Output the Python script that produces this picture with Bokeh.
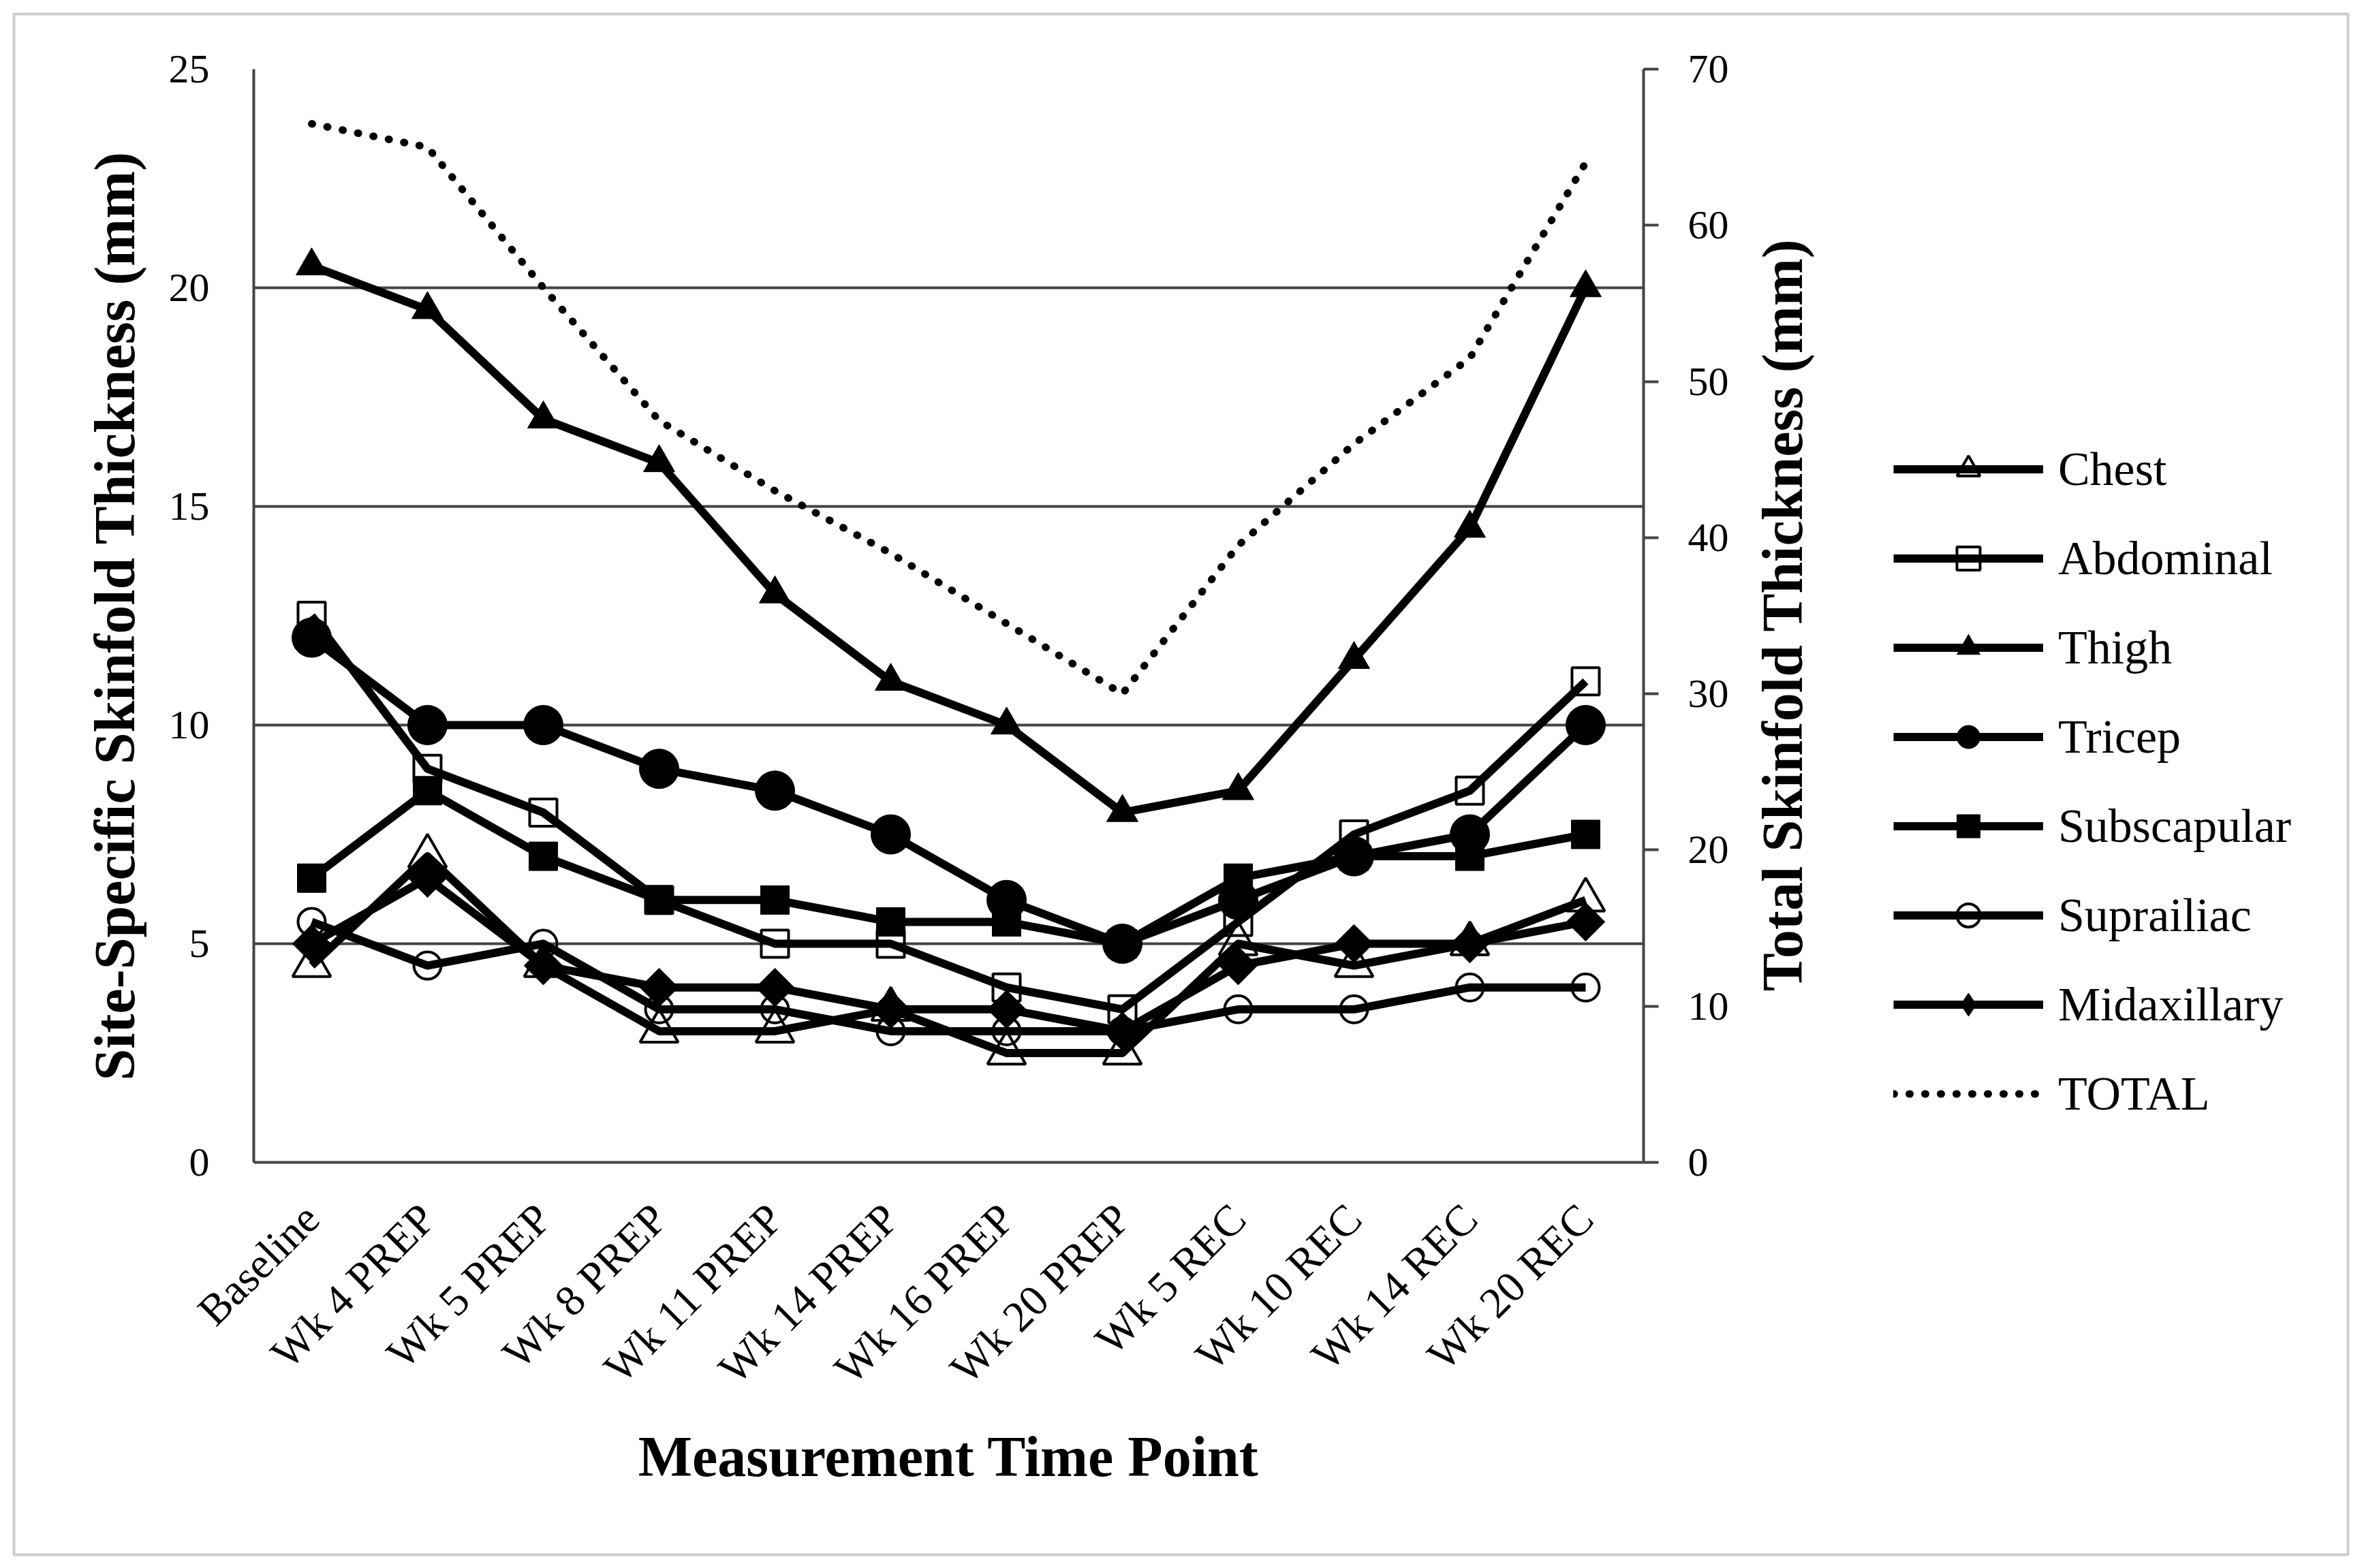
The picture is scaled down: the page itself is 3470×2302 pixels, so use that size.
import math
from bokeh.plotting import figure
from bokeh.models import (FactorRange, Range1d, LinearAxis, FixedTicker,
                          Legend, LegendItem, Label, BoxAnnotation)
from bokeh.embed import file_html
from bokeh.resources import INLINE

categories = ["Baseline", "Wk 4 PREP", "Wk 5 PREP", "Wk 8 PREP", "Wk 11 PREP",
              "Wk 14 PREP", "Wk 16 PREP", "Wk 20 PREP", "Wk 5 REC", "Wk 10 REC",
              "Wk 14 REC", "Wk 20 REC"]
chest = [4.5, 7, 4.5, 3, 3, 3.5, 2.5, 2.5, 5, 4.5, 5, 6]
abdominal = [12.5, 9, 8, 6, 5, 5, 4, 3.5, 5.5, 7.5, 8.5, 11]
thigh = [20.5, 19.5, 17, 16, 13, 11, 10, 8, 8.5, 11.5, 14.5, 20]
tricep = [12, 10, 10, 9, 8.5, 7.5, 6, 5, 6, 7, 7.5, 10]
subscapular = [6.5, 8.5, 7, 6, 6, 5.5, 5.5, 5, 6.5, 7, 7, 7.5]
suprailiac = [5.5, 4.5, 5, 3.5, 3.5, 3, 3, 3, 3.5, 3.5, 4, 4]
midaxillary = [5, 6.5, 4.5, 4, 4, 3.5, 3.5, 3, 4.5, 5, 5, 5.5]
total = [66.5, 65, 56, 47.5, 43, 39, 34.5, 30, 39.5, 46, 51.5, 64]

left_ticks = [0, 5, 10, 15, 20, 25]
right_ticks = [0, 10, 20, 30, 40, 50, 60, 70]

FONT = "Liberation Serif"
GRAY = "#444444"
W, H = 3470, 2302

p = figure(width=W, height=H,
           x_range=FactorRange(factors=categories, range_padding=0),
           y_range=Range1d(0, 25),
           output_backend="svg", toolbar_location=None,
           min_border_left=372, min_border_right=1058,
           min_border_top=101, min_border_bottom=596)
p.background_fill_color = "white"
p.border_fill_color = "white"
p.outline_line_color = None

p.extra_y_ranges = {"total": Range1d(0, 70)}

# grid
p.xgrid.visible = False
p.ygrid.ticker = FixedTicker(ticks=left_ticks)
p.ygrid.grid_line_color = GRAY
p.ygrid.grid_line_width = 4

# left axis
ya = p.yaxis[0]
ya.ticker = FixedTicker(ticks=left_ticks)
ya.major_tick_out = 0
ya.major_tick_in = 0
ya.minor_tick_out = 0
ya.minor_tick_in = 0
ya.axis_line_color = GRAY
ya.axis_line_width = 4
ya.major_label_text_font = FONT
ya.major_label_text_font_size = "60px"
ya.major_label_text_color = "black"
ya.major_label_standoff = 65
ya.axis_label = "Site-Specific Skinfold Thickness (mm)"
ya.axis_label_text_font = FONT
ya.axis_label_text_font_size = "84px"
ya.axis_label_text_font_style = "bold"
ya.axis_label_text_color = "black"
ya.axis_label_standoff = 30

# bottom axis
xa = p.xaxis[0]
xa.major_tick_out = 0
xa.major_tick_in = 0
xa.axis_line_color = GRAY
xa.axis_line_width = 4
xa.major_label_orientation = math.pi / 4
xa.major_label_text_font = FONT
xa.major_label_text_font_size = "64px"
xa.major_label_text_color = "black"
xa.major_label_standoff = 72
xa.axis_label = "Measurement Time Point"
xa.axis_label_text_font = FONT
xa.axis_label_text_font_size = "84px"
xa.axis_label_text_font_style = "bold"
xa.axis_label_text_color = "black"
xa.axis_label_standoff = 19

# right axis
ra = LinearAxis(y_range_name="total", ticker=FixedTicker(ticks=right_ticks))
ra.major_tick_out = 22
ra.major_tick_in = 0
ra.minor_tick_out = 0
ra.minor_tick_in = 0
ra.major_tick_line_color = GRAY
ra.major_tick_line_width = 4
ra.axis_line_color = GRAY
ra.axis_line_width = 4
ra.major_label_text_font = FONT
ra.major_label_text_font_size = "60px"
ra.major_label_text_color = "black"
ra.major_label_standoff = 43
p.add_layout(ra, "right")

LW = 12
series = [
    ("Chest", chest, dict(marker="triangle", size=56, fill_color=None, line_color="black", line_width=4)),
    ("Abdominal", abdominal, dict(marker="square", size=40, fill_color=None, line_color="black", line_width=4)),
    ("Thigh", thigh, dict(marker="triangle", size=46, fill_color="black", line_color="black", line_width=1)),
    ("Tricep", tricep, dict(marker="circle", size=58, fill_color="black", line_color="black", line_width=1)),
    ("Subscapular", subscapular, dict(marker="square", size=42, fill_color="black", line_color="black", line_width=1)),
    ("Suprailiac", suprailiac, dict(marker="circle", size=40, fill_color=None, line_color="black", line_width=4)),
]

items = []
for name, vals, mk in series:
    lr = p.line(categories, vals, line_color="black", line_width=LW, line_join="round")
    sr = p.scatter(categories, vals, **mk)
    items.append(LegendItem(label=name, renderers=[lr, sr]))

# midaxillary: diamonds (rotated squares) on the chart, diamond glyph for the key
lr = p.line(categories, midaxillary, line_color="black", line_width=LW, line_join="round")
p.scatter(categories, midaxillary, marker="square", size=40, angle=math.pi / 4,
          fill_color="black", line_color="black", line_width=1)
key = p.scatter(categories, midaxillary, marker="diamond", size=46,
                fill_color="black", line_color="black", visible=False)
items.append(LegendItem(label="Midaxillary", renderers=[lr, key]))

tr = p.line(categories, total, y_range_name="total", line_color="black",
            line_width=11, line_dash="1 22", line_cap="round")
items.append(LegendItem(label="TOTAL", renderers=[tr]))

legend = Legend(items=items, location=(66, 58), orientation="vertical")
legend.padding = 0
legend.margin = 0
legend.spacing = 46
legend.glyph_width = 220
legend.glyph_height = 85
legend.label_standoff = 22
legend.label_text_font = FONT
legend.label_text_font_size = "70px"
legend.label_text_color = "black"
legend.border_line_color = None
legend.background_fill_alpha = 0
p.add_layout(legend, "right")

# transparent overlay: outer chart border and the right-hand axis title
ov = figure(width=W, height=H, x_range=Range1d(0, W), y_range=Range1d(0, H),
            x_axis_type=None, y_axis_type=None, title=None,
            toolbar_location=None, output_backend="svg", min_border=0)
ov.outline_line_color = None
ov.background_fill_alpha = 0
ov.border_fill_alpha = 0
ov.styles = {"position": "absolute", "left": "0px", "top": "0px"}
ov.add_layout(BoxAnnotation(left=20, right=W - 24, bottom=20, top=H - 20,
                            fill_alpha=0, line_color="#595959", line_width=4))
ov.add_layout(Label(x=2616, y=H - 902, text="Total Skinfold Thickness (mm)",
                    angle=math.pi / 2, text_align="center", text_baseline="alphabetic",
                    text_font=FONT, text_font_size="84px", text_font_style="bold",
                    text_color="black"))

open("out.html", "w").write(file_html((p, ov), INLINE))
